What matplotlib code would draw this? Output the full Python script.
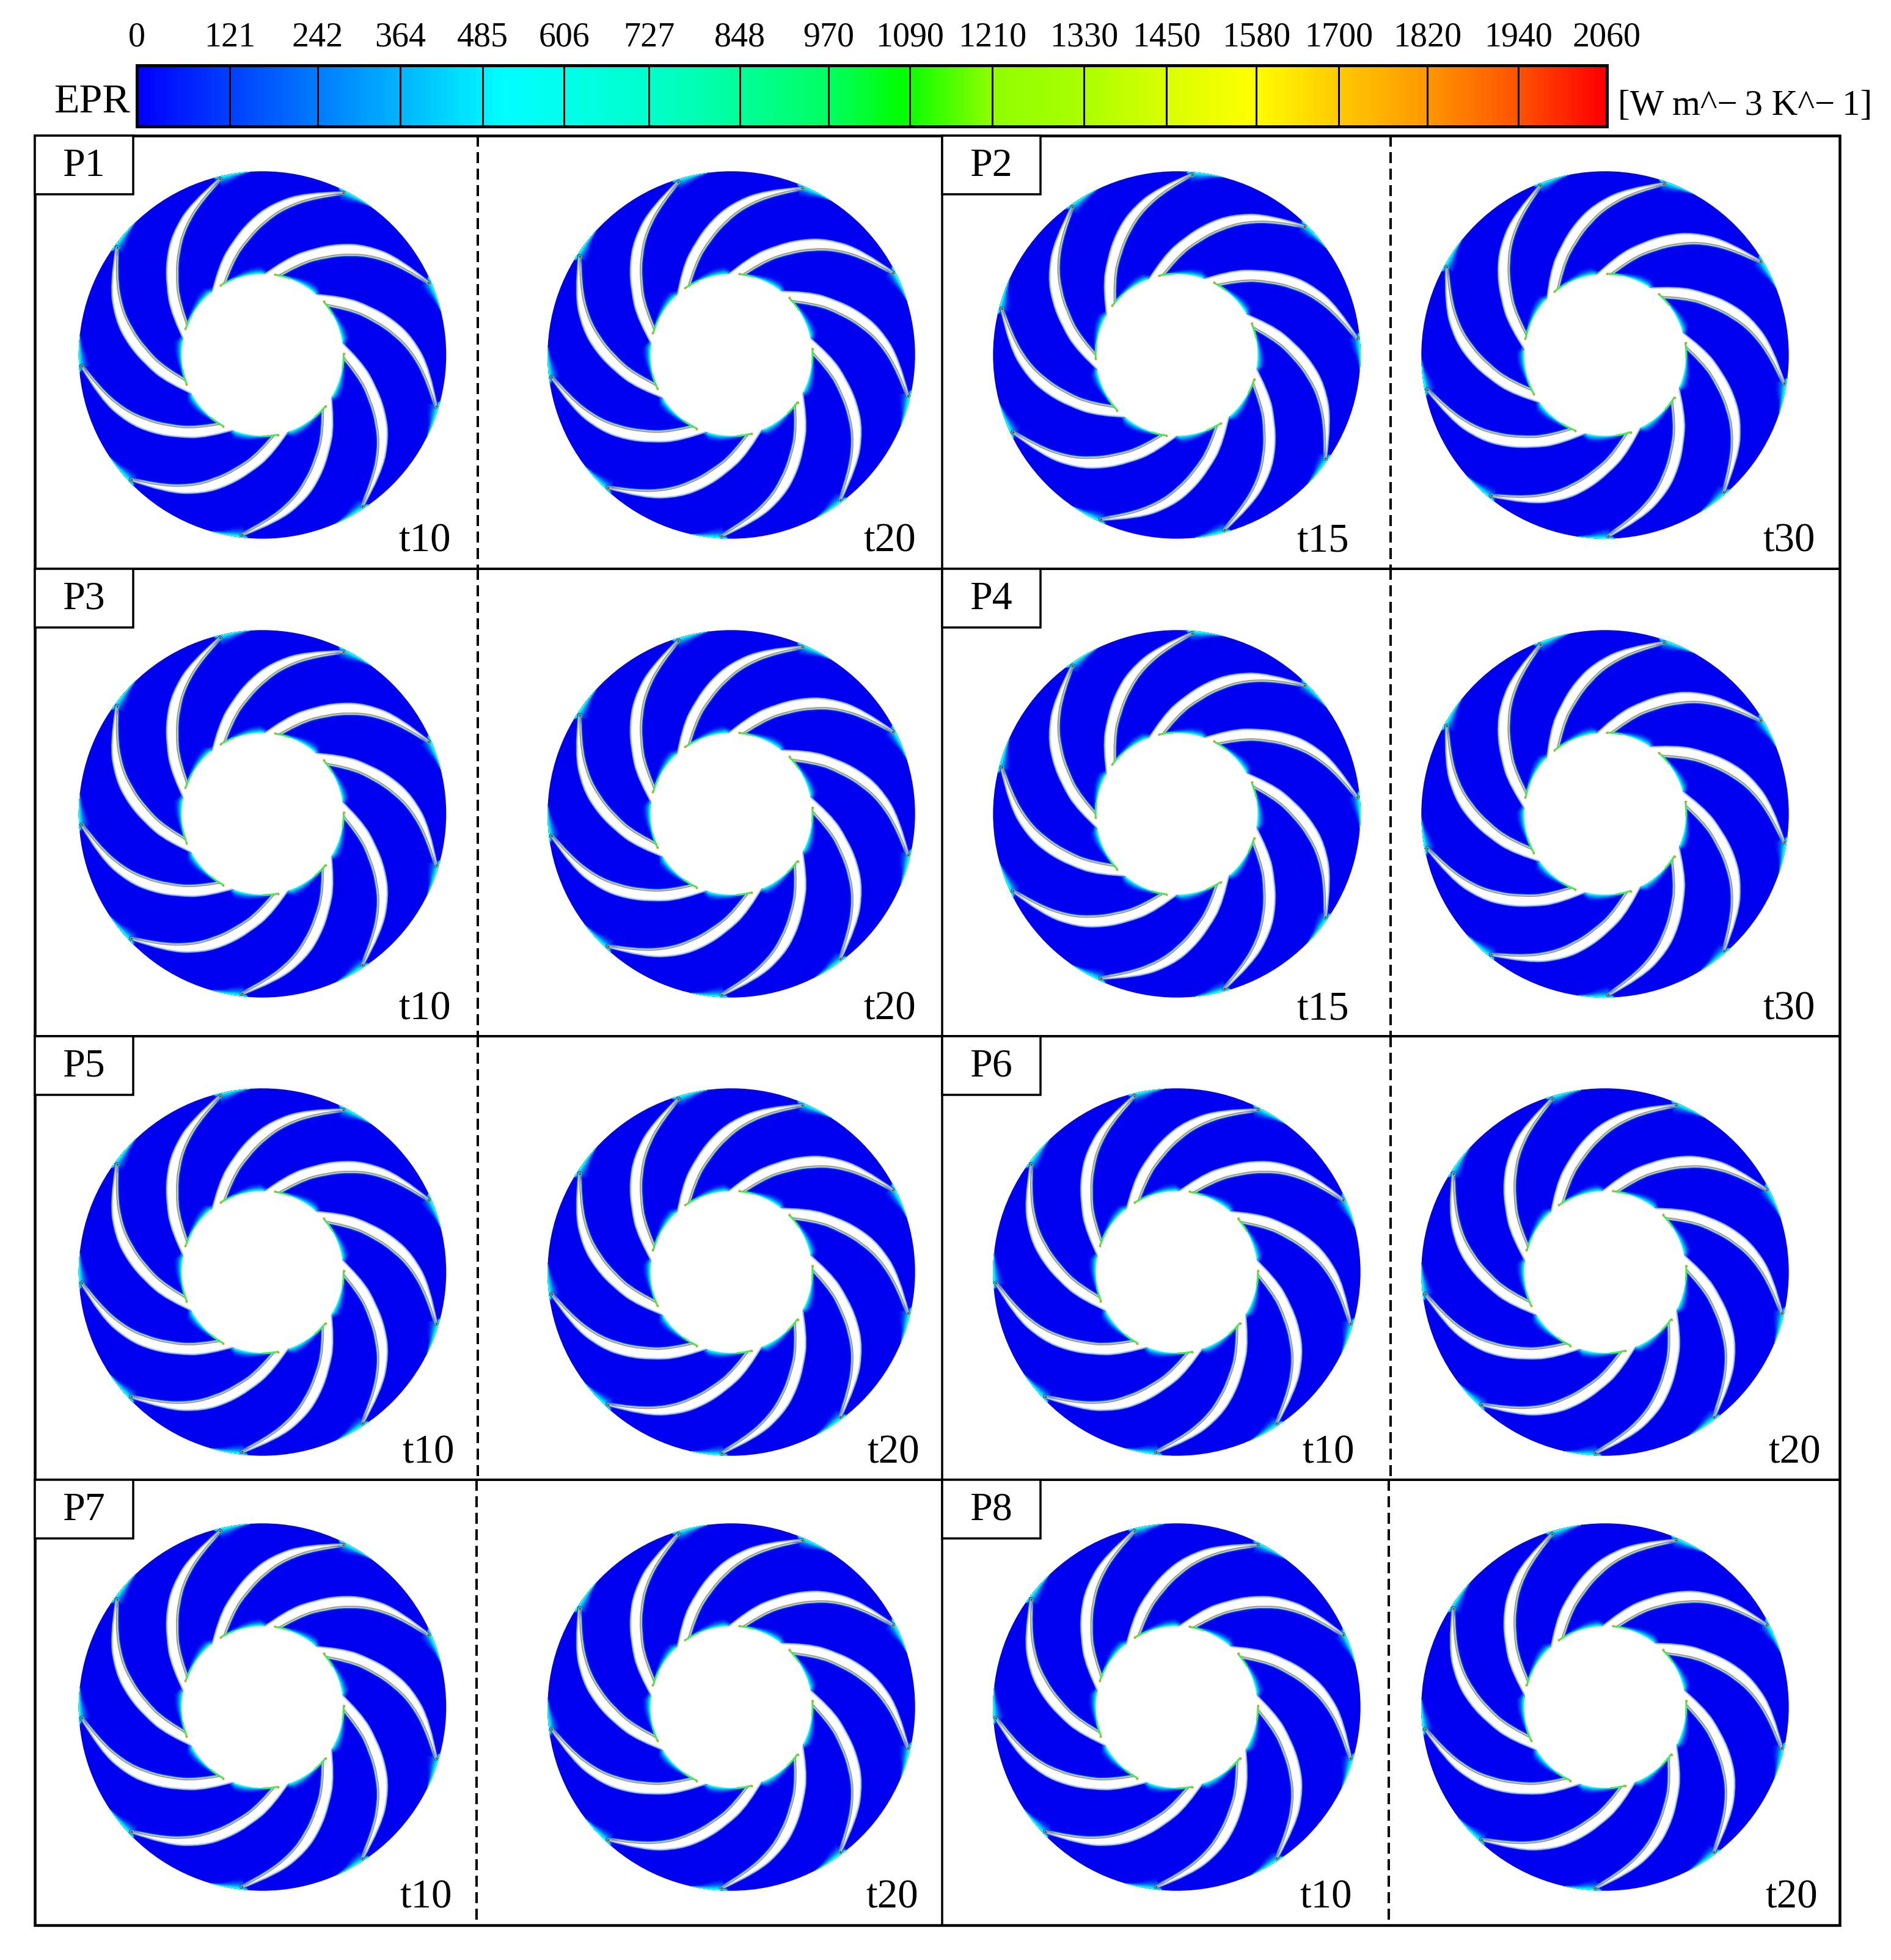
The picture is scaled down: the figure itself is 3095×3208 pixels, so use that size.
import numpy as np
import matplotlib
matplotlib.use('Agg')
import matplotlib.pyplot as plt
from matplotlib.colors import LinearSegmentedColormap
from matplotlib.path import Path
from matplotlib.patches import Circle, PathPatch, Rectangle

plt.rcParams['font.family'] = ['Liberation Serif', 'DejaVu Serif']

W, H = 3095, 3208
PX = 0.72  # one pixel in points at dpi 100

# colour scale
scale_labels = ['0', '121', '242', '364', '485', '606', '727', '848', '970', '1090',
                '1210', '1330', '1450', '1580', '1700', '1820', '1940', '2060']
scale_x = [224, 376, 520, 655, 790, 923, 1062, 1211, 1356, 1489, 1624, 1774, 1909,
           2056, 2191, 2336, 2485, 2630]
cfd = LinearSegmentedColormap.from_list('cfd', [
    (0, '#0000ff'), (0.25, '#00ffff'), (0.348, '#00ffcc'), (0.41, '#00ff99'), (0.471, '#00ff60'),
    (0.52, '#00ff00'), (0.583, '#90ff00'), (0.644, '#aaff00'), (0.70, '#d8ff00'), (0.761, '#ffff00'),
    (0.817, '#ffcc00'), (0.878, '#ff9900'), (0.94, '#ff5500'), (1, '#ff0000')])

# panels
names = ['P1', 'P2', 'P3', 'P4', 'P5', 'P6', 'P7', 'P8']
times = [['t10', 't20'], ['t15', 't30'], ['t10', 't20'], ['t15', 't30'],
         ['t10', 't20'], ['t10', 't20'], ['t10', 't20'], ['t10', 't20']]
rotation = [[0, 3.5], [21.7, 7.5], [0, 3.5], [21.7, 7.5],
            [0, 3.5], [0, 3.5], [0, 3.5], [0, 3.5]]
disk_x = [429.6, 1197, 1926, 2627]
disk_y = [581, 1332, 2082, 2794]
row_top = [222, 931, 1696, 2422]
row_bottom = 3151
time_x = [[696, 1457, 2166, 2929], [696, 1457, 2166, 2929], [702, 1463, 2175, 2938], [698, 1461, 2171, 2933]]
time_y = [886, 1652, 2378, 3106]

# one blade, radius as fraction of the disk, angle in degrees from the outer tip
n_blades = 9
first_tip = 23.5
hub_r = 0.44
blade_r = [0.42, 0.54, 0.642, 0.73, 0.816, 0.91, 0.985]
back_a = [67.5, 52.1, 40.1, 31.6, 23.1, 11.6, 0.0]
face_a = [58.6, 44.6, 33.6, 25.6, 17.8, 8.0, 0.0]
hub_glow_a = [57.5, 50, 42, 34, 28, 20]
hub_glow_w = [0.004, 0.014, 0.028, 0.045, 0.05, 0.0]
rim_glow_a = [2, 0, -3, -6, -10]
rim_glow_w = [0.0, 0.07, 0.055, 0.028, 0.0]
glow_steps = [1.0, 0.88, 0.76, 0.65, 0.55, 0.45, 0.36, 0.27, 0.18, 0.1]
glow_cols = ['#0004f1', '#0010f2', '#0020f4', '#0038f5', '#0050f7', '#0070f8', '#0098fa', '#00c0fc', '#00e0fc', '#30f8f0']


def polar(r, a, cx, cy, R, rot):
    a = np.radians(np.asarray(a) + rot)
    return cx + R * np.asarray(r) * np.cos(a), cy - R * np.asarray(r) * np.sin(a)


def curve(xs, ys, start=True):
    # quadratic chain through the mid points
    verts = [(xs[0], ys[0])]
    codes = [Path.MOVETO if start else Path.LINETO]
    for i in range(1, len(xs) - 1):
        end = ((xs[i] + xs[i + 1]) / 2, (ys[i] + ys[i + 1]) / 2) if i < len(xs) - 2 else (xs[-1], ys[-1])
        verts += [(xs[i], ys[i]), end]
        codes += [Path.CURVE3, Path.CURVE3]
    return verts, codes


def draw_disk(ax, cx, cy, R, rot):
    ax.add_patch(Circle((cx, cy), R, fc='#0000f0', ec='none', zorder=2))
    clip = Circle((cx, cy), R, transform=ax.transData)

    for k in range(n_blades):
        tip = first_tip + 40 * k + rot
        # glow along the hub
        arc = np.linspace(hub_glow_a[0], hub_glow_a[-1], 50)
        w = np.interp(arc, hub_glow_a[::-1], hub_glow_w[::-1])
        for step, col in zip(glow_steps, glow_cols):
            rr = np.r_[np.full(50, hub_r - 0.01), (hub_r + w * step)[::-1]]
            x, y = polar(rr, np.r_[arc, arc[::-1]], cx, cy, R, tip)
            ax.fill(x, y, color=col, lw=0, zorder=3)
        # glow at the rim
        arc = np.linspace(rim_glow_a[0], rim_glow_a[-1], 30)
        w = np.interp(arc, rim_glow_a[::-1], rim_glow_w[::-1])
        for step, col in zip(glow_steps, glow_cols):
            rr = np.r_[np.full(30, 1.01), (1 - w * step)[::-1]]
            x, y = polar(rr, np.r_[arc, arc[::-1]], cx, cy, R, tip)
            p = ax.fill(x, y, color=col, lw=0, zorder=3)[0]
            p.set_clip_path(clip)

    for k in range(n_blades):
        tip = first_tip + 40 * k + rot
        bx, by = polar(blade_r, back_a, cx, cy, R, tip)
        fx, fy = polar(blade_r, face_a, cx, cy, R, tip)
        v1, c1 = curve(bx, by)
        v2, c2 = curve(fx[::-1], fy[::-1], start=False)
        blade = Path(v1 + v2[1:] + [v1[0]], c1 + c2[1:] + [Path.CLOSEPOLY])
        face = Path(*curve(fx, fy))
        back = Path(*curve(bx, by))
        # soft edges first, then the blade itself
        for lw, col in [(8, '#0050f8'), (5.5, '#60c8f8'), (4, '#d0e8d8')]:
            ax.add_patch(PathPatch(face, fc='none', ec=col, lw=lw * PX, zorder=4, capstyle='round'))
        for lw, col in [(6, '#3060f8'), (4, '#b0c8ff')]:
            ax.add_patch(PathPatch(back, fc='none', ec=col, lw=lw * PX, zorder=4, capstyle='round'))
        ax.add_patch(PathPatch(blade, fc='white', ec='none', zorder=5))
        ax.add_patch(PathPatch(face, fc='none', ec='#b09880', lw=2.2 * PX, zorder=6))
        # hot spot at the tip
        x, y = polar([blade_r[-1]], [face_a[-1]], cx, cy, R, tip)
        ax.plot(x, y, 'o', ms=6 * PX, color='#20e0a0', mew=0, zorder=7)
        ax.plot(x, y, 'o', ms=3.5 * PX, color='#e02010', mew=0, zorder=8)

    ax.add_patch(Circle((cx, cy), R * hub_r, fc='white', ec='none', zorder=6))

    for k in range(n_blades):
        tip = first_tip + 40 * k + rot
        arc = np.linspace(hub_glow_a[0], hub_glow_a[1] - 3, 12)
        x, y = polar(np.full(12, hub_r + 0.002), arc, cx, cy, R, tip)
        ax.plot(x, y, color='#30f060', lw=3 * PX, zorder=7, solid_capstyle='round')
        x, y = polar([hub_r + 0.004], [hub_glow_a[0]], cx, cy, R, tip)
        ax.plot(x, y, 'o', ms=4 * PX, color='#d8a020', mew=0, zorder=8)


fig = plt.figure(figsize=(W / 100, H / 100), dpi=100)
ax = fig.add_axes([0, 0, 1, 1])

# colour bar on top
ramp = np.linspace(0, 1, 800)[None, :]
ax.imshow(ramp, cmap=cfd, extent=[scale_x[0], scale_x[-1], 207, 107], aspect='auto', zorder=1)
ax.set_xlim(0, W)
ax.set_ylim(H, 0)
ax.axis('off')
ax.add_patch(Rectangle((scale_x[0], 107), scale_x[-1] - scale_x[0], 100, fc='none', ec='k', lw=5 * PX, zorder=2))
for x, lab in zip(scale_x, scale_labels):
    if x not in (scale_x[0], scale_x[-1]):
        ax.plot([x, x], [107, 207], color='k', lw=3 * PX, zorder=2)
    ax.text(x, 62, lab, fontsize=56 * PX, ha='center', va='center', color='k')
ax.text(213, 167, 'EPR', fontsize=68 * PX, ha='right', va='center')
ax.text(2648, 174, '[W m^\u2212\u20093 K^\u2212\u20091]', fontsize=59 * PX, ha='left', va='center')

# frame
ax.add_patch(Rectangle((57, 222), 3011 - 57, row_bottom - 222, fc='none', ec='k', lw=4.5 * PX, zorder=10))
for y in row_top[1:]:
    ax.plot([57, 3011], [y, y], color='k', lw=4 * PX, zorder=10)
ax.plot([1542, 1542], [222, row_bottom], color='k', lw=3.5 * PX, zorder=10)
dash_x = [[782, 2276], [782, 2276], [782, 2276], [780, 2273]]
for i, y in enumerate(row_top):
    y2 = row_top[i + 1] if i < 3 else row_bottom
    for x in dash_x[i]:
        ax.plot([x, x], [y, y2], color='k', lw=4 * PX, ls=(0, (4.5, 2.25)), zorder=10)

for i, name in enumerate(names):
    row, col = i // 2, i % 2
    x0 = 57 if col == 0 else 1542
    y0 = row_top[row]
    ax.add_patch(Rectangle((x0, y0), 161, 96, fc='white', ec='k', lw=3.5 * PX, zorder=11))
    ax.text(x0 + 80, y0 + 50, name, fontsize=66 * PX, ha='center', va='center', zorder=12)
    for j in range(2):
        c = col * 2 + j
        draw_disk(ax, disk_x[c], disk_y[row], 300.7, rotation[i][j])
        ax.text(time_x[row][c] + 42, time_y[row], times[i][j], fontsize=67 * PX,
                ha='right', va='center', zorder=12)

fig.savefig('out.png', dpi=100)
